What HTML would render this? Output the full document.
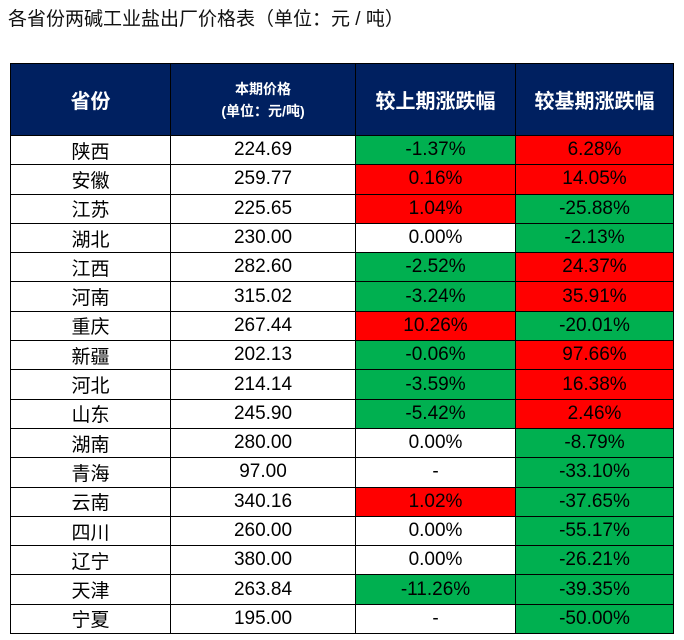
<!DOCTYPE html>
<html><head><meta charset="utf-8">
<style>
body{margin:0;width:684px;height:640px;background:#fff;overflow:hidden;font-family:"Liberation Sans","Noto Sans CJK SC",sans-serif;}
.title{position:absolute;left:8px;top:4px;font-size:19px;color:#111;}
table{position:absolute;left:10px;top:63px;border-collapse:collapse;table-layout:fixed;}
td,th{border:1.5px solid #000;padding:0;text-align:center;height:28.3px;font-size:19px;font-weight:normal;color:#000;}
th{background:#002060;color:#fff;font-weight:bold;height:71px;font-size:20px;}
th.small{font-size:14px;line-height:22px;}
.g{background:#00b050}.r{background:#ff0000}
</style></head><body>
<div class="title">各省份两碱工业盐出厂价格表（单位：元 / 吨）</div>
<table>
<colgroup><col style="width:160px"><col style="width:185px"><col style="width:160px"><col style="width:158px"></colgroup>
<thead><tr>
<th>省份</th>
<th class="small">本期价格<br>(单位：元/吨)</th>
<th>较上期涨跌幅</th>
<th>较基期涨跌幅</th>
</tr></thead>
<tbody id="tb"></tbody></table>
<script>
const provinces=["陕西","安徽","江苏","湖北","江西","河南","重庆","新疆","河北","山东","湖南","青海","云南","四川","辽宁","天津","宁夏"];
const prices=["224.69","259.77","225.65","230.00","282.60","315.02","267.44","202.13","214.14","245.90","280.00","97.00","340.16","260.00","380.00","263.84","195.00"];
const prevChange=[-1.37,0.16,1.04,0,-2.52,-3.24,10.26,-0.06,-3.59,-5.42,0,null,1.02,0,0,-11.26,null];
const baseChange=[6.28,14.05,-25.88,-2.13,24.37,35.91,-20.01,97.66,16.38,2.46,-8.79,-33.10,-37.65,-55.17,-26.21,-39.35,-50.00];
const tb=document.getElementById('tb');
function cell(v){const td=document.createElement('td');
if(v===null){td.textContent='-';}else{td.textContent=v.toFixed(2)+'%';if(v>0)td.className='r';else if(v<0)td.className='g';}
return td;}
provinces.forEach((p,i)=>{
const tr=document.createElement('tr');


const a=document.createElement('td');a.textContent=p;


const b=document.createElement('td');b.textContent=prices[i];


const c=cell(prevChange[i]);


const d=cell(baseChange[i]);


tr.append(a,b,c,d);tb.appendChild(tr);});
</script>
</body></html>
